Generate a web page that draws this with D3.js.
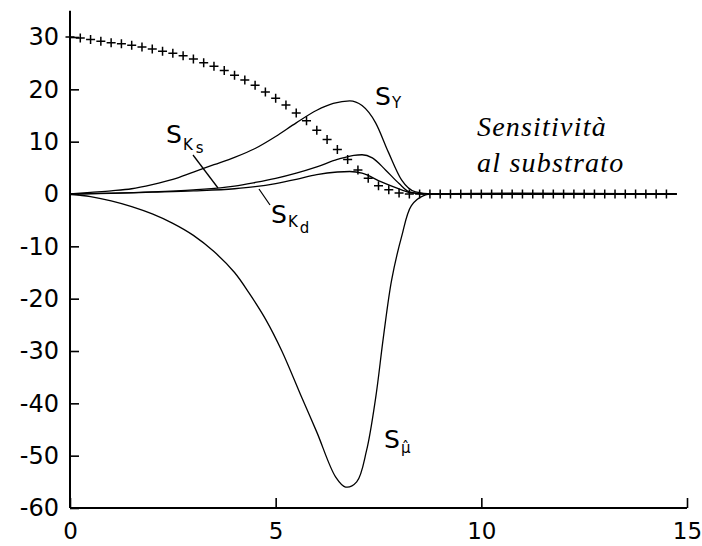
<!DOCTYPE html>
<html>
<head>
<meta charset="utf-8">
<script src="https://cdn.jsdelivr.net/npm/d3@7"></script>
<style>
  body { margin: 0; background: #fff; }
  svg text { font-family: "DejaVu Sans", sans-serif; fill: #000; }
</style>
</head>
<body>
<div id="chart"></div>
<script>
// substrate profile (plus markers)
var subT = [0, 0.25, 0.5, 0.75, 1, 1.25, 1.5, 1.75, 2, 2.25, 2.5, 2.75, 3, 3.25, 3.5, 3.75,
  4, 4.25, 4.5, 4.75, 5, 5.25, 5.5, 5.75, 6, 6.25, 6.5, 6.75, 7, 7.25, 7.5, 7.75,
  8, 8.25, 8.5, 8.75, 9, 9.25, 9.5, 9.75, 10, 10.25, 10.5, 10.75, 11, 11.25, 11.5, 11.75,
  12, 12.25, 12.5, 12.75, 13, 13.25, 13.5, 13.75, 14, 14.25, 14.5];
var subV = [30, 29.8, 29.5, 29.2, 28.9, 28.7, 28.4, 28.1, 27.7, 27.3, 26.9, 26.4, 25.8, 25.1, 24.4, 23.6,
  22.7, 21.8, 20.8, 19.5, 18.3, 17.0, 15.5, 14.0, 12.2, 10.4, 8.5, 6.6, 4.6, 3.0, 1.6, 0.8,
  0.2, 0, 0, 0, 0, 0, 0, 0, 0, 0, 0, 0, 0, 0, 0, 0,
  0, 0, 0, 0, 0, 0, 0, 0, 0, 0, 0];

// sensitivity curves
var syT = [0, 0.5, 1, 1.5, 2, 2.5, 3, 3.5, 4, 4.5, 5, 5.5, 6, 6.4, 6.8, 7.1, 7.43, 7.74, 8.06, 8.4, 8.8, 14.75];
var syV = [0, 0.3, 0.6, 1.0, 1.8, 2.8, 4.2, 5.6, 7.0, 8.7, 11.0, 13.6, 16.0, 17.3, 17.8, 16.9, 13.6, 8.0, 2.7, 0.4, 0, 0];

var sksT = [0, 1, 2, 3, 4, 4.5, 5, 5.5, 6, 6.5, 6.9, 7.1, 7.35, 7.67, 8, 8.25, 8.6, 14.75];
var sksV = [0, 0.15, 0.4, 0.8, 1.5, 2.2, 3.0, 4.0, 5.2, 6.6, 7.4, 7.5, 6.9, 4.6, 2.0, 0.4, 0, 0];

var skdT = [0, 1, 2, 3, 4, 4.5, 5, 5.5, 6, 6.5, 6.8, 7.1, 7.57, 8.06, 8.3, 8.7, 14.75];
var skdV = [0, 0.12, 0.35, 0.6, 1.0, 1.4, 2.0, 2.8, 3.7, 4.2, 4.3, 4.0, 2.3, 0.8, 0.2, 0, 0];

var smuT = [0, 0.5, 1, 1.5, 2, 2.5, 3, 3.5, 4, 4.36, 4.76, 5.15, 5.64, 6.0, 6.46, 6.7, 6.97, 7.21, 7.43, 7.62, 7.82, 8.06, 8.3, 8.6, 9, 14.75];
var smuV = [0, -0.5, -1.3, -2.4, -3.8, -5.6, -7.9, -11, -15, -19.0, -24.0, -30.0, -39, -45.5, -54.1, -56, -55, -49, -39, -27.3, -16.4, -8.2, -2.2, -0.3, 0, 0];

var xTicks = [0, 5, 10, 15];
var yTicks = [-60, -50, -40, -30, -20, -10, 0, 10, 20, 30];

var width = 702, height = 546;
var svg = d3.select("#chart").append("svg").attr("width", width).attr("height", height);

var x = d3.scaleLinear().domain([0, 15]).range([70, 687]);
var y = d3.scaleLinear().domain([-60, 30]).range([508, 37]);

// axes
var yAxis = svg.append("g").attr("transform", "translate(" + x(0) + ",0)")
	.call(d3.axisLeft(y).tickValues(yTicks).tickSize(-9).tickPadding(11).tickFormat(d3.format("d")));
yAxis.select(".domain").remove();
yAxis.selectAll("line").attr("stroke-width", 1.6);
yAxis.selectAll("text").style("font-size", "24px").attr("fill", "#000").text(function(d){ return String(d); });

var xAxis = svg.append("g").attr("transform", "translate(0," + y(-60) + ")")
	.call(d3.axisBottom(x).tickValues(xTicks).tickSize(-10).tickFormat(d3.format("d")));
xAxis.select(".domain").remove();
xAxis.selectAll("line").attr("stroke-width", 1.6);
xAxis.selectAll("text").style("font-size", "23px").attr("fill", "#000").attr("y", 31).attr("dy", null);

svg.append("line")
	.attr("x1", x(0)).attr("x2", x(0)).attr("y1", y(35)).attr("y2", y(-60))
	.attr("stroke", "#000").attr("stroke-width", 2);
svg.append("line")
	.attr("x1", x(0)).attr("x2", x(15)).attr("y1", y(-60)).attr("y2", y(-60))
	.attr("stroke", "#000").attr("stroke-width", 2);

// curves
var smooth = d3.line()
	.x(function(d){ return x(d[0]); })
	.y(function(d){ return y(d[1]); })
	.curve(d3.curveMonotoneX);
var sharp = d3.line()
	.x(function(d){ return x(d[0]); })
	.y(function(d){ return y(d[1]); })
	.curve(d3.curveCatmullRom.alpha(0.5));

[[syT, syV, smooth], [sksT, sksV, smooth], [skdT, skdV, smooth], [smuT, smuV, sharp]].forEach(function(s) {
	svg.append("path")
		.datum(d3.zip(s[0], s[1]))
		.attr("fill", "none")
		.attr("stroke", "#000")
		.attr("stroke-width", 1.3)
		.attr("stroke-linejoin", "round")
		.attr("d", s[2]);
});

// plus markers
var pluses = svg.append("g").attr("class", "plus");
var pts = d3.zip(subT, subV);
pluses.selectAll("path")
	.data(pts)
	.enter().append("path")
		.attr("d", function(d) {
			var px = x(d[0]), py = y(d[1]), r = 4.5;
			return "M" + (px - r) + "," + py + "H" + (px + r) + "M" + px + "," + (py - r) + "V" + (py + r);
		})
		.attr("stroke", "#000")
		.attr("stroke-width", 1.5)
		.attr("fill", "none");

// labels
function label(px, py, parts) {
	var t = svg.append("text").attr("x", px).attr("y", py).style("font-size", "25px");
	t.append("tspan").text("S");
	parts.forEach(function(p) {
		t.append("tspan").attr("dx", p.dx || 0).attr("dy", p.dy).style("font-size", p.size + "px").text(p.text);
	});
	return t;
}
label(375, 105, [{text: "Y", dy: 3, dx: 1, size: 15}]);
label(166, 143, [{text: "K", dy: 7, dx: 1, size: 15}, {text: "s", dy: 3, dx: 3, size: 15}]);
label(271, 223, [{text: "K", dy: 4, dx: 1, size: 15}, {text: "d", dy: 6, dx: 2, size: 15}]);
label(384, 448, [{text: "\u03bc\u0302", dy: 5, dx: 1, size: 15}]);

// leader lines
svg.append("line").attr("x1", 193).attr("y1", 155).attr("x2", 218).attr("y2", 188)
	.attr("stroke", "#000").attr("stroke-width", 1.3);
svg.append("line").attr("x1", 259).attr("y1", 189).attr("x2", 270).attr("y2", 205)
	.attr("stroke", "#000").attr("stroke-width", 1.3);

// title
var note = svg.append("text")
	.style("font-family", "'Liberation Serif', 'Times New Roman', serif")
	.style("font-style", "italic")
	.style("font-size", "28px")
	.style("letter-spacing", "1.2px");
note.append("tspan").attr("x", 477).attr("y", 136).text("Sensitività");
note.append("tspan").attr("x", 477).attr("y", 172).text("al substrato");
</script>
</body>
</html>
